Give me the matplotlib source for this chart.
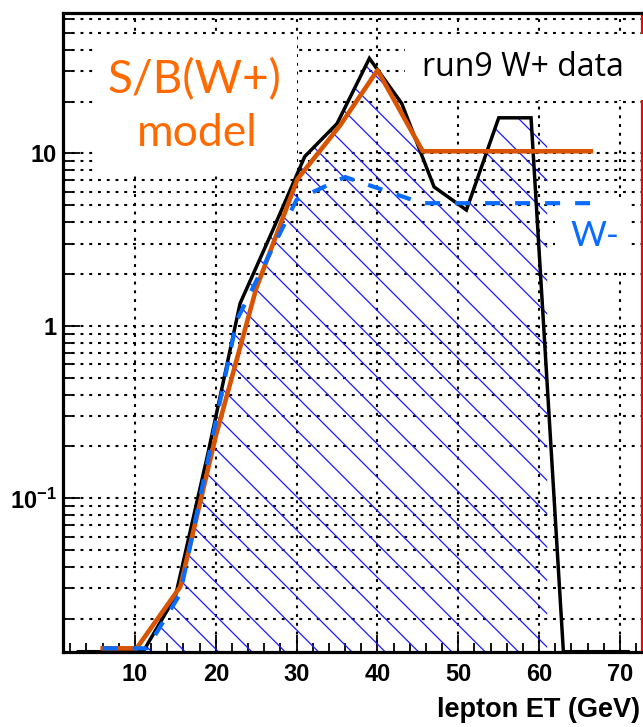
import matplotlib
matplotlib.use("Agg")
import matplotlib.pyplot as plt
from matplotlib.patches import Rectangle, Polygon
from matplotlib.ticker import LogLocator, FixedLocator, MultipleLocator, NullFormatter, FixedFormatter

plt.rcParams['mathtext.fontset'] = 'custom'
plt.rcParams['mathtext.rm'] = 'Liberation Sans:bold'
plt.rcParams['mathtext.bf'] = 'Liberation Sans:bold'
plt.rcParams['hatch.linewidth'] = 0.9

# ---------------- data ----------------
YMIN, YMAX = 0.0129, 65.0
XMIN, XMAX = 1.13, 72.69

# run9 W+ data (black line), bin centres
data_et = [3, 7, 11, 15, 19, 23, 27, 31, 35, 39, 43, 47, 51, 55, 59, 63, 67, 71]
data_sb = [0.0129, 0.0129, 0.0129, 0.027, 0.18, 1.35, 3.55, 9.6, 14.9, 35.6,
           19.5, 6.4, 4.7, 16.1, 16.1, 0.0129, 0.0129, 0.0129]

# hatched area outline
hatch_et = [11, 15, 19, 23, 27, 31, 35, 39, 43, 47, 51, 55, 59, 61, 61]
hatch_sb = [0.0129, 0.027, 0.18, 1.35, 3.55, 9.6, 14.9, 35.6, 19.5, 6.4, 4.7,
            16.1, 16.1, 16.1, 0.0129]

# S/B(W+) model (orange)
model_et = [6, 10.2, 15.6, 20, 25, 30.1, 35.4, 40, 45.6, 66.4]
model_sb = [0.0135, 0.0135, 0.0307, 0.23, 1.65, 7.1, 14.6, 30.4, 10.3, 10.3]

# W- (blue dashed)
wm_et = [6, 11.5, 15.6, 22.6, 30, 36, 45.5, 68]
wm_sb = [0.0135, 0.0135, 0.028, 1.08, 5.4, 7.3, 5.15, 5.15]

xticks = [10, 20, 30, 40, 50, 60, 70]
yticks = [0.1, 1, 10]
ytick_labels = [r'$\mathbf{10^{-1}}$', '1', '10']

# ---------------- figure ----------------
W, H = 643, 727
fig = plt.figure(figsize=(W / 100, H / 100), dpi=100)
ax = fig.add_axes([63.3 / W, (H - 651.7) / H, 578.4 / W, 638.4 / H])
ax.set_yscale('log')
ax.set_xlim(XMIN, XMAX)
ax.set_ylim(YMIN, YMAX)

# grid
ax.set_axisbelow(True)
grid_kw = dict(color='black', linewidth=1.5, linestyle=(0, (1.4, 2.8)))
ax.yaxis.set_major_locator(FixedLocator(yticks))
ax.yaxis.set_major_formatter(FixedFormatter(ytick_labels))
ax.yaxis.set_minor_locator(LogLocator(base=10, subs=range(2, 10), numticks=20))
ax.yaxis.set_minor_formatter(NullFormatter())
ax.xaxis.set_major_locator(FixedLocator(xticks))
ax.xaxis.set_minor_locator(MultipleLocator(2))
ax.grid(which='both', axis='y', **grid_kw)
ax.grid(which='major', axis='x', **grid_kw)

ax.tick_params(which='both', direction='in', top=False, right=False, width=1.3, color='black')
ax.tick_params(which='major', length=12)
ax.tick_params(which='minor', length=6.5)
ax.tick_params(axis='y', which='major', pad=4.5)
ax.tick_params(axis='x', which='major', pad=8)
for lab in ax.get_xticklabels() + ax.get_yticklabels():
    lab.set_fontfamily('Liberation Sans')
    lab.set_fontweight('bold')
    lab.set_fontsize(17)

for s in ['left', 'bottom', 'top']:
    ax.spines[s].set_color('black')
    ax.spines[s].set_linewidth(2.3)
ax.spines['right'].set_color('red')
ax.spines['right'].set_linewidth(1.6)
ax.spines['right'].set_zorder(0.8)

# white label boxes (figure pixel geometry)
def box(x0, y0, x1, y1):
    r = Rectangle((x0 / W, 1 - y1 / H), (x1 - x0) / W, (y1 - y0) / H,
                  transform=fig.transFigure, facecolor='white', edgecolor='none',
                  zorder=1, clip_on=False)
    ax.add_patch(r)

box(97, 35, 297, 173)
box(405, 34, 660, 100)
box(555, 198, 631, 267)

# hatched area
poly = Polygon(list(zip(hatch_et, hatch_sb)), closed=True, facecolor='none',
               edgecolor='#1a1aff', linewidth=0, hatch='\\', zorder=1.5)
ax.add_patch(poly)

# lines
ax.plot(data_et, data_sb, color='black', lw=2.5, zorder=3, clip_on=False,
        solid_joinstyle='miter')
ax.plot(model_et, model_sb, color='#d95400', lw=3.3, zorder=3.2)
ax.plot(wm_et, wm_sb, color='#0a6cff', lw=3.0, linestyle=(0, (3.6, 3.6)), zorder=3.4)

# texts
def ftext(px, py, s, **kw):
    fig.text(px / W, 1 - py / H, s, **kw)

ftext(194, 80, 'S/B(W+)', color='#ff6a00', fontsize=33, family='Lato',
      ha='center', va='center', zorder=5)
ftext(197, 133, 'model', color='#ff6a00', fontsize=32, family='Lato',
      ha='center', va='center', zorder=5)
ftext(421.7, 67, 'run9 W+ data', color='black', fontsize=23, family='Open Sans',
      ha='left', va='center', zorder=5)
ftext(595, 236, 'W-', color='#0a6cff', fontsize=25, family='Lato',
      ha='center', va='center', zorder=5)
ftext(640, 710, 'lepton ET (GeV)', color='black', fontsize=19.5,
      family='Liberation Sans', fontweight='bold', ha='right', va='center')

fig.savefig('out.png', dpi=100)
